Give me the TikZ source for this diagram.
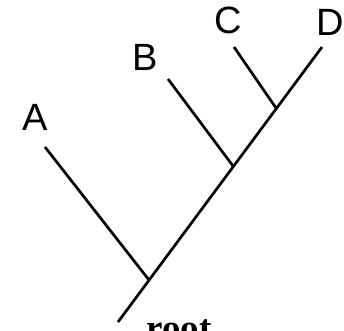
\documentclass[tikz,border=0pt]{standalone}
\usepackage{fontspec}
\setmainfont{Liberation Sans}
\newfontfamily\rootfont{Liberation Serif}
\begin{document}
\begin{tikzpicture}[x=1pt,y=1pt,
  branch/.style={line width=2.7pt, line cap=butt},
  leaf/.style={font=\fontsize{38}{40}\selectfont, inner sep=0pt},
  rootlab/.style={font=\rootfont\bfseries\fontsize{37}{40}\selectfont, inner sep=0pt, anchor=base}]
\useasboundingbox (0,0) rectangle (344,330);
\clip (0,0) rectangle (344,330);
\coordinate (root) at (118,8);
\coordinate (jA) at (149,50);
\coordinate (jB) at (233,164);
\coordinate (jCD) at (276,222);
\coordinate (tA) at (45,183);
\coordinate (tB) at (168,251);
\coordinate (tC) at (234,283);
\coordinate (tD) at (322,283);
\draw[branch] (root) -- (tD);
\draw[branch] (jA) -- (tA);
\draw[branch] (jB) -- (tB);
\draw[branch] (jCD) -- (tC);
\node[leaf] (A) at (35,213) {A};
\node[leaf] (B) at (145,273) {B};
\node[leaf] (C) at (228,310) {C};
\node[leaf] (D) at (330,308) {D};
\node[rootlab] (R) at (179,-10) {root};
\end{tikzpicture}
\end{document}
